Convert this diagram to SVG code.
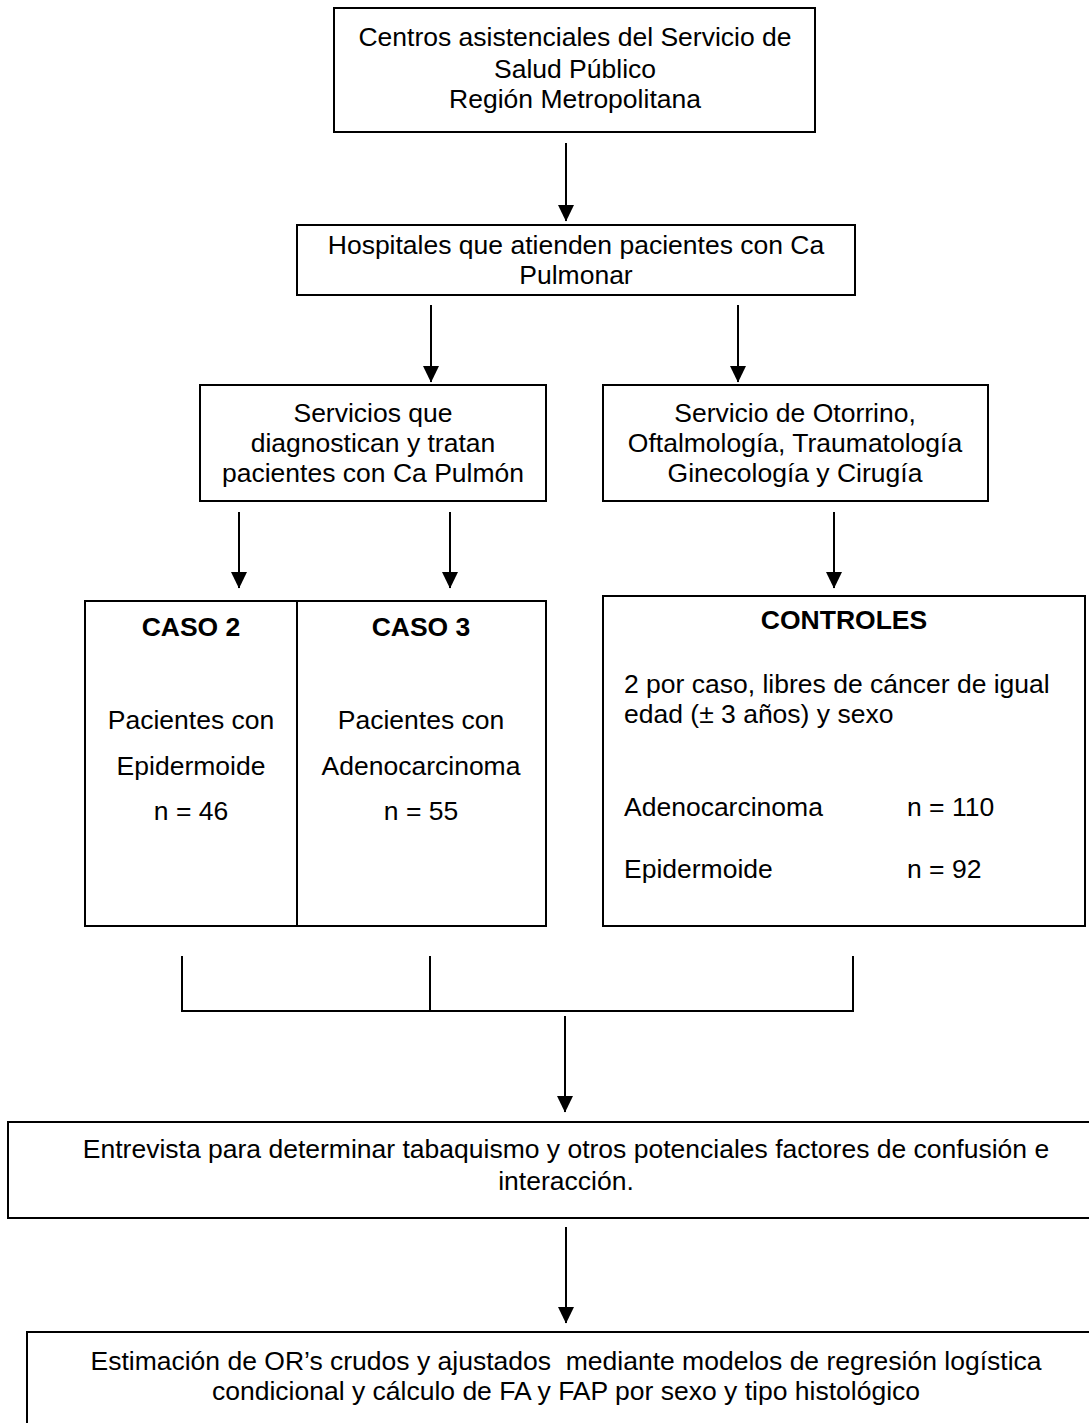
<svg xmlns="http://www.w3.org/2000/svg" width="1089" height="1423" viewBox="0 0 1089 1423">
<defs>
<marker id="ah" markerWidth="17" markerHeight="17" refX="16" refY="8.5" orient="auto" markerUnits="userSpaceOnUse" viewBox="0 0 17 17">
<path d="M0,0.5 L16.5,8.5 L0,16.5 Z" fill="#000"/>
</marker>
<style>
.box{fill:#fff;stroke:#000;stroke-width:2}
.ln{stroke:#000;stroke-width:2;fill:none}
.t{font-family:"Liberation Sans",Arial,sans-serif;font-size:26.5px;fill:#000}
.c{text-anchor:middle}
.b{font-weight:bold}
</style>
</defs>
<rect width="1089" height="1423" fill="#fff"/>
<g id="connectors">
<line class="ln" x1="566" y1="143" x2="566" y2="221" marker-end="url(#ah)"/>
<line class="ln" x1="431" y1="305" x2="431" y2="382" marker-end="url(#ah)"/>
<line class="ln" x1="738" y1="305" x2="738" y2="382" marker-end="url(#ah)"/>
<line class="ln" x1="239" y1="512" x2="239" y2="588" marker-end="url(#ah)"/>
<line class="ln" x1="450" y1="512" x2="450" y2="588" marker-end="url(#ah)"/>
<line class="ln" x1="834" y1="512" x2="834" y2="588" marker-end="url(#ah)"/>
<path class="ln" d="M182,956 V1011 H853 V956 M430,956 V1011"/>
<line class="ln" x1="565" y1="1016" x2="565" y2="1112" marker-end="url(#ah)"/>
<line class="ln" x1="566" y1="1227" x2="566" y2="1323" marker-end="url(#ah)"/>
</g>
<g id="centros">
<rect class="box" x="334" y="8" width="481" height="124"/>
<text class="t c" x="575" y="46">Centros asistenciales del Servicio de</text>
<text class="t c" x="575" y="78">Salud Público</text>
<text class="t c" x="575" y="108">Región Metropolitana</text>
</g>
<g id="hospitales">
<rect class="box" x="297" y="225" width="558" height="70"/>
<text class="t c" x="576" y="254">Hospitales que atienden pacientes con Ca</text>
<text class="t c" x="576" y="284">Pulmonar</text>
</g>
<g id="servicios">
<rect class="box" x="200" y="385" width="346" height="116"/>
<text class="t c" x="373" y="422">Servicios que</text>
<text class="t c" x="373" y="452">diagnostican y tratan</text>
<text class="t c" x="373" y="482">pacientes con Ca Pulmón</text>
</g>
<g id="otorrino">
<rect class="box" x="603" y="385" width="385" height="116"/>
<text class="t c" x="795" y="422">Servicio de Otorrino,</text>
<text class="t c" x="795" y="452">Oftalmología, Traumatología</text>
<text class="t c" x="795" y="482">Ginecología y Cirugía</text>
</g>
<g id="caso2">
<rect class="box" x="85" y="601" width="212" height="325"/>
<text class="t c b" x="191" y="636">CASO 2</text>
<text class="t c" x="191" y="729">Pacientes con</text>
<text class="t c" x="191" y="775">Epidermoide</text>
<text class="t c" x="191" y="820">n = 46</text>
</g>
<g id="caso3">
<rect class="box" x="297" y="601" width="249" height="325"/>
<text class="t c b" x="421" y="636">CASO 3</text>
<text class="t c" x="421" y="729">Pacientes con</text>
<text class="t c" x="421" y="775">Adenocarcinoma</text>
<text class="t c" x="421" y="820">n = 55</text>
</g>
<g id="controles">
<rect class="box" x="603" y="596" width="482" height="330"/>
<text class="t c b" x="844" y="629">CONTROLES</text>
<text class="t" x="624" y="693">2 por caso, libres de cáncer de igual</text>
<text class="t" x="624" y="723">edad (± 3 años) y sexo</text>
<text class="t" x="624" y="816">Adenocarcinoma</text>
<text class="t" x="907" y="816">n = 110</text>
<text class="t" x="624" y="878">Epidermoide</text>
<text class="t" x="907" y="878">n = 92</text>
</g>
<g id="entrevista">
<path class="ln" d="M1095,1122 H8 V1218 H1095"/>
<text class="t c" x="566" y="1158">Entrevista para determinar tabaquismo y otros potenciales factores de confusión e</text>
<text class="t c" x="566" y="1190">interacción.</text>
</g>
<g id="estimacion">
<path class="ln" d="M1095,1332 H27 V1430"/>
<text class="t c" x="566" y="1370" xml:space="preserve">Estimación de OR’s crudos y ajustados  mediante modelos de regresión logística</text>
<text class="t c" x="566" y="1400">condicional y cálculo de FA y FAP por sexo y tipo histológico</text>
</g>
</svg>
